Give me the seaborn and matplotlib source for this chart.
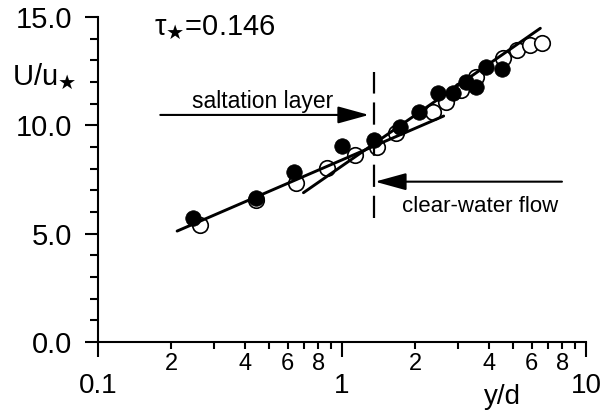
import numpy as np
import pandas as pd
import matplotlib
matplotlib.use("Agg")
import matplotlib.pyplot as plt
import seaborn as sns

# ---- data ----
x_filled = [0.246, 0.443, 0.635, 1.00, 1.35, 1.73, 2.07, 2.47, 2.85, 3.21, 3.55, 3.91, 4.52]
u_filled = [5.74, 6.66, 7.86, 9.04, 9.32, 9.94, 10.63, 11.50, 11.48, 12.01, 11.78, 12.70, 12.58]

x_open = [0.262, 0.446, 0.647, 0.867, 1.13, 1.39, 1.66, 2.35, 2.67, 3.08, 3.55, 4.58, 5.2, 5.9, 6.6]
u_open = [5.40, 6.55, 7.32, 8.02, 8.63, 9.01, 9.63, 10.63, 11.09, 11.63, 12.24, 13.09, 13.47, 13.71, 13.81]

# fitted log-law lines (end points)
x_fit_salt = [0.211, 2.61]
u_fit_salt = [5.12, 10.43]
x_fit_clear = [0.695, 6.50]
u_fit_clear = [6.89, 14.48]

# boundary between layers
x_boundary = [1.35, 1.35]
u_boundary = [5.72, 12.46]

major_ticks = [0.1, 1, 10]
major_labels = ["0.1", "1", "10"]
minor_ticks = [0.2, 0.3, 0.4, 0.5, 0.6, 0.7, 0.8, 0.9, 2, 3, 4, 5, 6, 7, 8, 9]
minor_labels = ["2", "", "4", "", "6", "", "8", "", "2", "", "4", "", "6", "", "8", ""]
y_major = [0, 5, 10, 15]
y_labels = ["0.0", "5.0", "10.0", "15.0"]

# ---- style ----
sns.set_style("ticks")
plt.rcParams["font.family"] = ["Liberation Sans", "DejaVu Sans"]
plt.rcParams["mathtext.fontset"] = "dejavusans"
for key in ("text.color", "axes.labelcolor", "xtick.color", "ytick.color",
            "axes.edgecolor", "xtick.labelcolor", "ytick.labelcolor"):
    plt.rcParams[key] = "black"

fig = plt.figure(figsize=(6.08, 4.12), dpi=100)
ax = fig.add_axes([98 / 608, 1 - 342 / 412, 488 / 608, 325 / 412])

df_open = pd.DataFrame({"x": x_open, "u": u_open})
df_fill = pd.DataFrame({"x": x_filled, "u": u_filled})

sns.scatterplot(data=df_open, x="x", y="u", ax=ax, marker="o", s=125,
                color="white", edgecolor="black", linewidth=1.2, zorder=3)
sns.scatterplot(data=df_fill, x="x", y="u", ax=ax, marker="o", s=125,
                color="black", edgecolor="black", linewidth=0.5, zorder=4)

sns.lineplot(x=x_fit_salt, y=u_fit_salt, ax=ax, color="black", lw=2.1,
             estimator=None, sort=False, zorder=5)
sns.lineplot(x=x_fit_clear, y=u_fit_clear, ax=ax, color="black", lw=2.1,
             estimator=None, sort=False, zorder=5)
ax.plot(x_boundary, u_boundary, color="black", lw=1.6,
        linestyle=(0, (10, 4)), zorder=5)

# arrows and labels
ax.annotate("", xy=(1.29, 10.48), xytext=(0.18, 10.48),
            arrowprops=dict(arrowstyle="-|>,head_length=0.8,head_width=0.22",
                            mutation_scale=24, lw=1.5, color="black",
                            shrinkA=0, shrinkB=0))
ax.annotate("", xy=(1.365, 7.40), xytext=(7.97, 7.40),
            arrowprops=dict(arrowstyle="-|>,head_length=0.8,head_width=0.22",
                            mutation_scale=24, lw=1.5, color="black",
                            shrinkA=0, shrinkB=0))
ax.text(0.475, 11.08, "saltation layer", fontsize=16.5, ha="center", va="center")
ax.text(3.68, 6.24, "clear-water flow", fontsize=16, ha="center", va="center")
ax.text(0.302, 14.5, "τ$_{\\bigstar}$=0.146", fontsize=21, ha="center", va="center")

# axes
ax.set_xscale("log")
ax.set_xlim(0.1, 10)
ax.set_ylim(0, 15)
ax.set_xticks(major_ticks)
ax.set_xticklabels(major_labels)
ax.set_xticks(minor_ticks, minor=True)
ax.set_xticklabels(minor_labels, minor=True)
ax.set_yticks(y_major)
ax.set_yticklabels(y_labels)
ax.set_yticks(np.arange(0, 16, 1), minor=True)
ax.set_xlabel("")
ax.set_ylabel("")

ax.tick_params(axis="x", which="major", length=11, width=1.5, pad=11,
               labelsize=20, direction="out", color="black", labelcolor="black")
ax.tick_params(axis="x", which="minor", length=5, width=1.5, pad=3,
               labelsize=17, direction="out", color="black", labelcolor="black")
ax.tick_params(axis="y", which="major", length=9.5, width=1.5, pad=9,
               labelsize=21, direction="out", color="black", labelcolor="black")
ax.tick_params(axis="y", which="minor", length=6, width=1.5,
               direction="out", color="black")

sns.despine(ax=ax)
for sp in ("left", "bottom"):
    ax.spines[sp].set_linewidth(1.5)
    ax.spines[sp].set_color("black")

fig.text(44 / 608, 1 - 77 / 412, "U/u$_{\\bigstar}$", fontsize=21, ha="center", va="center")
fig.text(502 / 608, 1 - 397 / 412, "y/d", fontsize=20, ha="center", va="center")

fig.savefig("out.png", dpi=100)
